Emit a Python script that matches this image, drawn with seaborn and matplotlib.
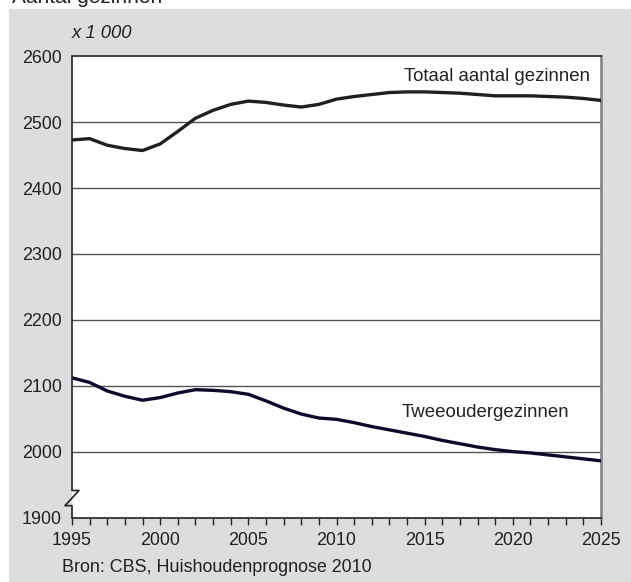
import numpy as np
import pandas as pd
import matplotlib
matplotlib.use("Agg")
import matplotlib.pyplot as plt
import matplotlib.transforms as mtransforms
from matplotlib.patches import Rectangle
import seaborn as sns

years = list(range(1995, 2026))
totaal = [2473, 2475, 2465, 2460, 2457, 2467, 2486, 2506, 2518, 2527, 2532,
          2530, 2526, 2523, 2527, 2535, 2539, 2542, 2545, 2546, 2546, 2545,
          2544, 2542, 2540, 2540, 2540, 2539, 2538, 2536, 2533]
tweeouder = [2112, 2105, 2092, 2084, 2078, 2082, 2089, 2094, 2093, 2091, 2087,
             2077, 2066, 2057, 2051, 2049, 2044, 2038, 2033, 2028, 2023, 2017,
             2012, 2007, 2003, 2000, 1998, 1995, 1992, 1989, 1986]
series_names = ["Totaal aantal gezinnen", "Tweeoudergezinnen"]
y_ticks = [1900, 2000, 2100, 2200, 2300, 2400, 2500, 2600]
x_ticks = [1995, 2000, 2005, 2010, 2015, 2020, 2025]

df = pd.DataFrame({
    "jaar": years * 2,
    "aantal": totaal + tweeouder,
    "reeks": [series_names[0]] * len(years) + [series_names[1]] * len(years),
})

sns.set_theme(style="white")
plt.rcParams["font.family"] = ["Liberation Sans", "DejaVu Sans"]
txt = "#222222"
fs = 12.9

fig = plt.figure(figsize=(6.31, 5.82), dpi=100, facecolor="white")
bg = Rectangle((9 / 631, 0), 1, (582 - 9) / 582, transform=fig.transFigure,
               facecolor="#dcdddf", edgecolor="none", zorder=-5)
fig.add_artist(bg)
fig.text(12 / 631, 1 - 3 / 582, "Aantal gezinnen", fontsize=15, color=txt,
         ha="left", va="baseline")

ax = fig.add_axes([72 / 631, 1 - 517.5 / 582, (601 - 72) / 631, (517.5 - 56.3) / 582])
ax.set_zorder(2)
ax.set_facecolor("white")

sns.lineplot(data=df, x="jaar", y="aantal", hue="reeks",
             palette={series_names[0]: "#231f20", series_names[1]: "#0b0b2b"},
             linewidth=2.4, legend=False, ax=ax, zorder=3)

ax.set_xlim(1995, 2025)
ax.set_ylim(1900, 2600)
for v in [2000, 2100, 2200, 2300, 2400, 2500]:
    ax.axhline(v, color="#555555", linewidth=1.0, zorder=1)

ax.set_xticks(years, minor=False)
ax.set_xticklabels([str(y) if y in x_ticks else "" for y in years])
ax.set_yticks(y_ticks)
ax.set_yticklabels([str(v) for v in y_ticks])
ax.tick_params(axis="x", which="major", direction="out", length=5, width=1,
               color="#222222", pad=5.5, labelsize=fs, labelcolor=txt, bottom=True)
ax.tick_params(axis="y", length=0, pad=7.5, labelsize=fs, labelcolor=txt)
ax.set_xlabel("")
ax.set_ylabel("")

for s in ["top", "bottom"]:
    ax.spines[s].set_visible(True)
    ax.spines[s].set_color("#222222")
    ax.spines[s].set_linewidth(1.2)
ax.spines["right"].set_visible(True)
ax.spines["right"].set_color("#8a8a8a")
ax.spines["right"].set_linewidth(2.0)
ax.spines["left"].set_visible(False)

# left axis with break symbol
tr = mtransforms.blended_transform_factory(ax.transAxes, ax.transData)
dx = 7 / 529
ax.plot([0, 0, dx, -dx, 0, 0], [2600, 1941, 1941, 1918, 1918, 1900],
        transform=tr, color="#222222", linewidth=1.2, clip_on=False, zorder=4)

ax.text(2024.4, 2570, series_names[0], ha="right", va="center", fontsize=13.4, color=txt)
ax.text(2023.2, 2059, series_names[1], ha="right", va="center", fontsize=13.4, color=txt)

fig.text(72 / 631, 1 - 33 / 582, "x 1 000", fontsize=13.3, style="italic", color=txt,
         ha="left", va="center")
fig.text(62 / 631, 1 - 567 / 582, "Bron: CBS, Huishoudenprognose 2010", fontsize=fs,
         color=txt, ha="left", va="center")

fig.savefig("out.png", dpi=100, facecolor="white")
